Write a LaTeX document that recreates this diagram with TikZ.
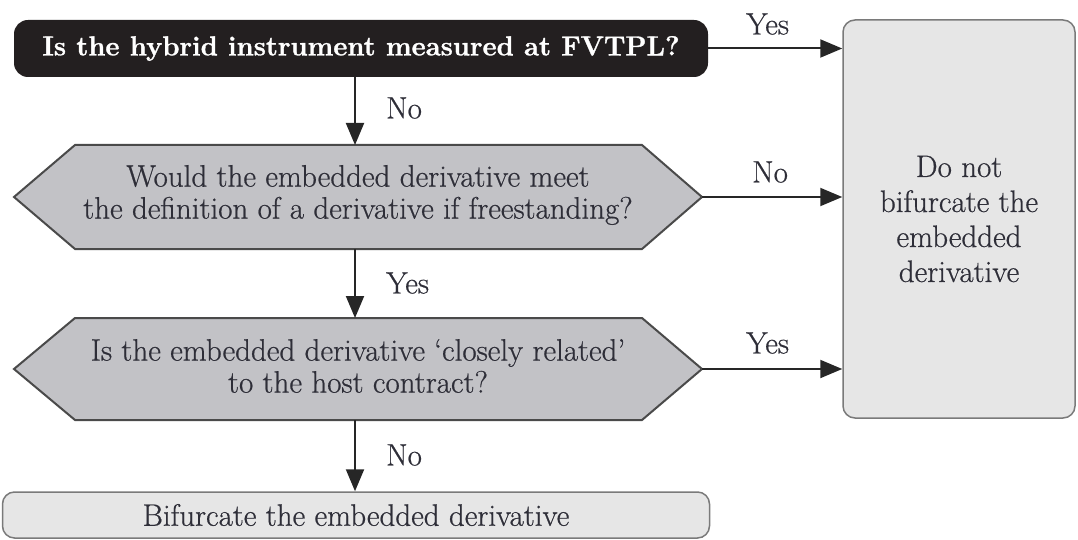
\documentclass[tikz,border=0pt]{standalone}
\usepackage{fontspec}
\newfontfamily\txtfont{Latin Modern Roman}[Ligatures=TeX, FakeBold=0.6]
\newfontfamily\headfont{Latin Modern Roman}[Ligatures=TeX, BoldFeatures={FakeBold=1.2}]
\usetikzlibrary{arrows.meta}
\definecolor{topfill}{HTML}{231F20}
\definecolor{hexfill}{HTML}{C2C2C6}
\definecolor{hexdraw}{HTML}{4A4A4A}
\definecolor{boxfill}{HTML}{E6E6E6}
\definecolor{boxdraw}{HTML}{7A7A7A}
\definecolor{txt}{HTML}{2E2E38}
\begin{document}
\begin{tikzpicture}[x=1pt,y=-1pt,
  font=\txtfont\fontsize{31}{32}\selectfont,
  arr/.style={-{Triangle[length=22pt,width=18pt]}, line width=2pt, draw=black!85},
  lbl/.style={text=txt, inner sep=0pt, anchor=west},
  hexshape/.style={draw=hexdraw, fill=hexfill, line width=2pt, line join=miter},
  hextext/.style={text=txt, align=center, inner sep=0pt},
  gbox/.style={draw=boxdraw, fill=boxfill, line width=1.5pt, rounded corners=12pt, text=txt, align=center, inner sep=0pt}]
\useasboundingbox (0,0) rectangle (1078,540);

% top question
\node[fill=topfill, rounded corners=14pt, minimum width=694pt, minimum height=57pt,
      text=white, font=\headfont\fontsize{27.4}{30}\selectfont\bfseries, inner sep=0pt] (q0) at (361,48.5)
      {Is the hybrid instrument measured at FVTPL?};

% hexagon 1
\coordinate (q1w) at (14,197);
\coordinate (q1e) at (702,197);
\coordinate (q1n) at (355,145);
\coordinate (q1s) at (355,249);
\draw[hexshape] (q1w) -- (75,145) -- (642,145) -- (q1e) -- (642,249) -- (75,249) -- cycle;
\node[hextext] (q1) at (358,195) {Would the embedded derivative meet\\the definition of a derivative if freestanding?};

% hexagon 2
\coordinate (q2w) at (14,369);
\coordinate (q2e) at (702,369);
\coordinate (q2n) at (355,318);
\coordinate (q2s) at (355,420);
\draw[hexshape] (q2w) -- (75,318) -- (642,318) -- (q2e) -- (642,420) -- (75,420) -- cycle;
\node[hextext] (q2) at (358,366) {Is the embedded derivative `closely related'\\to the host contract?};

% right box
\node[gbox, minimum width=232pt, minimum height=398pt, font=\txtfont\fontsize{31}{35}\selectfont] (r) at (959,219)
  {Do not\\bifurcate the\\embedded\\derivative};

% bottom box
\node[gbox, minimum width=707pt, minimum height=46pt] (b) at (356,515) {Bifurcate the embedded derivative};

% connectors
\draw[arr] (q0.south -| q1n) -- (q1n);
\draw[arr] (q1s) -- (q2n);
\draw[arr] (q2s) -- (b.north -| q2s);
\draw[arr] (q0.east) -- (q0.east -| r.west);
\draw[arr] (q1e) -- (q1e -| r.west);
\draw[arr] (q2e) -- (q2e -| r.west);

% labels
\node[lbl] (l1) at (386,108) {No};
\node[lbl] (l2) at (386,283) {Yes};
\node[lbl] (l3) at (386,455) {No};
\node[lbl] (l4) at (746,24) {Yes};
\node[lbl] (l5) at (752,172) {No};
\node[lbl] (l6) at (746,343) {Yes};
\end{tikzpicture}
\end{document}
